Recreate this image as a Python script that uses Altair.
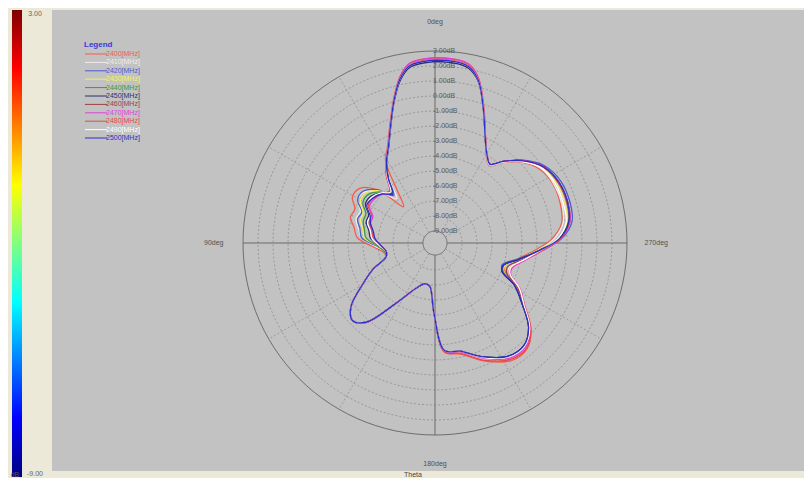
import altair as alt
import pandas as pd
import numpy as np

# ---------------- data ----------------
freqs = ["2400[MHz]", "2410[MHz]", "2420[MHz]", "2430[MHz]", "2440[MHz]", "2450[MHz]",
         "2460[MHz]", "2470[MHz]", "2480[MHz]", "2490[MHz]", "2500[MHz]"]
colors = ["#F25C4C", "#F4ECEC", "#4A5CD0", "#F2F060", "#3C9A3C", "#283070",
          "#9A4040", "#E040D8", "#E84848", "#FFFFFF", "#2E2EC8"]

# theta in degrees (0 at top, increasing counter-clockwise)
angles = [0, 8, 12, 16, 21, 26, 31, 36, 41, 47, 54, 61, 67, 73, 79, 86, 93, 100, 106, 113,
          120, 127, 133, 139, 147, 157, 166, 173, 179, 185, 193, 203, 213, 221, 228, 235,
          242, 247, 252, 259, 266, 272, 279, 287, 296, 305, 313, 320, 325, 330, 335, 340,
          345, 349, 353, 360]

g2400 = [2.55, 2.3, 1.5, 0.2, -1.4, -2.6, -3.4, -5.6, -6.6, -4.6, -3.6, -3.5, -4.0, -3.9, -4.3, -4.6, -5.6, -6.3, -6.4, -5.3,
         -4.2, -2.8, -2.25, -2.8, -5.0, -6.5, -7.0, -6.9, -5.2, -2.5, -2.2, -1.25, -0.45, -0.45, -1.2, -2.6, -3.7, -4.7, -4.9, -4.2,
         -3.1, -2.0, -1.25, -1.05, -1.0, -1.25, -1.9, -2.8, -3.5, -2.95, -1.85, -0.25, 1.5, 2.3, 2.5, 2.55]
g2410 = [2.45, 2.2, 1.45, 0.15, -1.45, -2.65, -3.45, -4.6, -5.9, -4.8, -4.0, -3.9, -4.4, -4.3, -4.6, -4.9, -5.8, -6.4, -6.4, -5.3,
         -4.2, -2.8, -2.25, -2.8, -5.0, -6.5, -7.0, -6.9, -5.2, -2.55, -2.3, -1.45, -0.7, -0.7, -1.3, -2.55, -3.5, -4.4, -4.6, -3.9,
         -2.9, -1.85, -1.15, -0.95, -0.95, -1.15, -1.85, -2.75, -3.45, -2.9, -1.85, -0.3, 1.45, 2.2, 2.4, 2.45]
g2420 = [2.4, 2.15, 1.4, 0.1, -1.5, -2.7, -3.5, -4.5, -5.6, -4.6, -3.9, -3.9, -4.5, -4.4, -4.7, -4.9, -5.9, -6.4, -6.4, -5.3,
         -4.2, -2.8, -2.25, -2.8, -5.0, -6.5, -7.0, -6.9, -5.2, -2.6, -2.4, -1.55, -0.8, -0.75, -1.4, -2.7, -3.8, -4.9, -5.1, -4.2,
         -2.7, -1.35, -0.55, -0.4, -0.45, -0.85, -1.7, -2.7, -3.4, -2.9, -1.9, -0.35, 1.4, 2.15, 2.35, 2.4]
g2430 = [2.4, 2.15, 1.4, 0.1, -1.5, -2.7, -3.5, -4.5, -5.5, -4.7, -4.1, -4.1, -4.6, -4.6, -4.9, -5.1, -6.0, -6.4, -6.4, -5.3,
         -4.2, -2.8, -2.25, -2.8, -5.0, -6.5, -7.0, -6.9, -5.2, -2.6, -2.35, -1.5, -0.75, -0.7, -1.35, -2.65, -3.7, -4.8, -4.9, -4.1,
         -2.9, -1.6, -0.9, -0.75, -0.75, -1.05, -1.8, -2.7, -3.4, -2.9, -1.9, -0.35, 1.4, 2.15, 2.35, 2.4]
g2440 = [2.4, 2.15, 1.4, 0.1, -1.5, -2.7, -3.5, -4.5, -5.5, -4.8, -4.3, -4.3, -4.8, -4.8, -5.0, -5.2, -6.0, -6.4, -6.4, -5.3,
         -4.2, -2.8, -2.25, -2.8, -5.0, -6.5, -7.0, -6.9, -5.2, -2.6, -2.4, -1.55, -0.8, -0.75, -1.4, -2.7, -3.8, -4.85, -5.0, -4.1,
         -2.85, -1.55, -0.8, -0.6, -0.65, -1.0, -1.8, -2.7, -3.4, -2.9, -1.9, -0.35, 1.4, 2.15, 2.35, 2.4]
g2450 = [2.3, 2.05, 1.3, 0.05, -1.55, -2.75, -3.55, -4.5, -5.4, -4.9, -4.5, -4.5, -5.0, -5.0, -5.3, -5.5, -6.1, -6.5, -6.4, -5.3,
         -4.2, -2.8, -2.25, -2.8, -5.0, -6.5, -7.0, -6.9, -5.2, -2.6, -2.4, -1.55, -0.8, -0.75, -1.4, -2.7, -3.8, -4.95, -5.0, -4.1,
         -2.8, -1.5, -0.75, -0.55, -0.6, -0.95, -1.75, -2.7, -3.4, -2.9, -1.9, -0.35, 1.35, 2.05, 2.25, 2.3]
g2460 = [2.4, 2.15, 1.4, 0.1, -1.5, -2.7, -3.5, -4.4, -5.3, -5.0, -4.6, -4.6, -5.1, -5.2, -5.4, -5.6, -6.1, -6.5, -6.4, -5.3,
         -4.2, -2.8, -2.25, -2.8, -5.0, -6.5, -7.0, -6.9, -5.2, -2.6, -2.4, -1.5, -0.75, -0.7, -1.35, -2.6, -3.6, -4.6, -4.7, -3.9,
         -2.7, -1.45, -0.7, -0.55, -0.6, -0.95, -1.75, -2.7, -3.4, -2.9, -1.9, -0.35, 1.4, 2.15, 2.35, 2.4]
g2470 = [2.55, 2.3, 1.5, 0.15, -1.45, -2.65, -3.45, -4.3, -5.2, -5.0, -4.8, -4.8, -5.3, -5.3, -5.5, -5.7, -6.2, -6.5, -6.4, -5.3,
         -4.2, -2.8, -2.25, -2.8, -5.0, -6.5, -7.0, -6.9, -5.2, -2.55, -2.35, -1.45, -0.65, -0.6, -1.25, -2.5, -3.4, -4.3, -4.4, -3.7,
         -2.6, -1.4, -0.7, -0.55, -0.6, -0.95, -1.75, -2.7, -3.4, -2.9, -1.85, -0.3, 1.5, 2.3, 2.5, 2.55]
g2480 = [2.45, 2.2, 1.45, 0.15, -1.45, -2.65, -3.45, -4.3, -5.2, -5.0, -4.7, -4.7, -5.2, -5.2, -5.5, -5.7, -6.2, -6.5, -6.4, -5.3,
         -4.2, -2.8, -2.25, -2.8, -5.0, -6.5, -7.0, -6.9, -5.2, -2.5, -2.25, -1.3, -0.55, -0.5, -1.2, -2.5, -3.5, -4.4, -4.5, -3.8,
         -2.65, -1.45, -0.75, -0.6, -0.65, -1.0, -1.8, -2.75, -3.45, -2.9, -1.85, -0.3, 1.45, 2.2, 2.4, 2.45]
g2490 = [2.4, 2.15, 1.4, 0.1, -1.5, -2.7, -3.5, -4.4, -5.3, -4.9, -4.6, -4.6, -5.1, -5.1, -5.4, -5.6, -6.1, -6.5, -6.4, -5.3,
         -4.2, -2.8, -2.25, -2.8, -5.0, -6.5, -7.0, -6.9, -5.2, -2.6, -2.4, -1.5, -0.75, -0.7, -1.3, -2.55, -3.45, -4.35, -4.5, -3.8,
         -2.75, -1.6, -0.95, -0.85, -0.85, -1.1, -1.85, -2.75, -3.45, -2.9, -1.9, -0.35, 1.4, 2.15, 2.35, 2.4]
g2500 = [2.4, 2.15, 1.4, 0.1, -1.5, -2.7, -3.5, -4.5, -5.5, -5.0, -4.7, -4.6, -5.1, -5.3, -5.6, -5.8, -6.2, -6.5, -6.4, -5.3,
         -4.2, -2.8, -2.25, -2.8, -5.0, -6.5, -7.0, -6.9, -5.2, -2.6, -2.4, -1.55, -0.8, -0.75, -1.4, -2.7, -3.8, -4.95, -5.0, -4.1,
         -2.8, -1.5, -0.77, -0.56, -0.6, -0.96, -1.77, -2.7, -3.4, -2.9, -1.9, -0.35, 1.4, 2.15, 2.35, 2.4]
series = [g2400, g2410, g2420, g2430, g2440, g2450, g2460, g2470, g2480, g2490, g2500]

ring_db = [-9, -8, -7, -6, -5, -4, -3, -2, -1, 0, 1, 2, 3]
solid_rings = [-9, 3]
spoke_angles = [30, 60, 120, 150, 210, 240, 300, 330]
axis_angles = [0, 90, 180, 270]
axis_labels = ["0deg", "90deg", "180deg", "270deg"]
cbar_labels = ["3.00", "-9.00"]

# ---------------- geometry ----------------
W, H = 796, 470
PX = 15.0          # pixels per dB
CX, CY = 427.0, 235.0
R0 = 9.8           # radius offset: -9 dB ring sits 12 px from the centre
xs = alt.Scale(domain=[-CX / PX, (W - CX) / PX], nice=False, zero=False)
ys = alt.Scale(domain=[-(H - CY) / PX, CY / PX], nice=False, zero=False)
X = lambda f: alt.X(f, type="quantitative", scale=xs, axis=None)
Y = lambda f: alt.Y(f, type="quantitative", scale=ys, axis=None)


def pol(r, a):
    t = np.deg2rad(a)
    return -r * np.sin(t), r * np.cos(t)


rows = []
for name, vals in zip(freqs, series):
    for j, (a, v) in enumerate(zip(angles, vals)):
        x, y = pol(v + R0, a)
        rows.append({"freq": name, "j": j, "x": x, "y": y})
curves = pd.DataFrame(rows)

ring_rows = []
for d in ring_db:
    for k, a in enumerate(range(0, 361, 3)):
        x, y = pol(d + R0, a)
        ring_rows.append({"ring": d, "k": k, "x": x, "y": y,
                          "solid": d in solid_rings})
rings = pd.DataFrame(ring_rows)

spk = []
for a in spoke_angles:
    x1, y1 = pol(-9 + R0, a)
    x2, y2 = pol(3 + R0, a)
    spk.append({"x": x1, "y": y1, "x2": x2, "y2": y2})
spokes = pd.DataFrame(spk)
ax = []
for a in axis_angles:
    x1, y1 = pol(-9 + R0, a)
    x2, y2 = pol(3 + R0, a)
    ax.append({"x": x1, "y": y1, "x2": x2, "y2": y2})
axes_df = pd.DataFrame(ax)

rlab = pd.DataFrame({"y": [d + R0 for d in ring_db],
                     "x": [0.0] * len(ring_db),
                     "t": [f"{d:.2f}dB" for d in ring_db]})
alab_rows = []
for a, t in zip(axis_angles, axis_labels):
    x, y = pol(14.75, a)
    alab_rows.append({"x": x, "y": y, "t": t})
alab = pd.DataFrame(alab_rows)

one = pd.DataFrame({"k": [0]})
FONT = "Liberation Sans"

bg = alt.Chart(one).mark_rect(color="#C2C2C2").encode(
    x=alt.value(44), x2=alt.value(W), y=alt.value(2), y2=alt.value(H))
cbar = alt.Chart(one).mark_rect(
    fill=alt.Gradient(gradient="linear", x1=0, x2=0, y1=0, y2=1, stops=[
        alt.GradientStop(offset=0.0, color="#7F0000"),
        alt.GradientStop(offset=0.125, color="#FF0000"),
        alt.GradientStop(offset=0.375, color="#FFFF00"),
        alt.GradientStop(offset=0.5, color="#80FF80"),
        alt.GradientStop(offset=0.625, color="#00FFFF"),
        alt.GradientStop(offset=0.875, color="#0000FF"),
        alt.GradientStop(offset=1.0, color="#00007F")])
).encode(x=alt.value(4), x2=alt.value(14), y=alt.value(2), y2=alt.value(469))
cbar_txt = alt.Chart(pd.DataFrame({"t": cbar_labels, "i": [0, 1]})).mark_text(
    font=FONT, fontSize=7, color="#666666", align="center", baseline="middle"
).encode(x=alt.value(27), y=alt.Y("i:Q", scale=alt.Scale(domain=[0, 1], range=[6, 466]), axis=None),
         text="t:N")
misc_txt = alt.Chart(pd.DataFrame({"t": ["dB"]})).mark_text(
    font=FONT, fontSize=7, color="#555555", align="center", baseline="bottom"
).encode(x=alt.value(7), y=alt.value(470), text="t:N")
theta_bg = alt.Chart(one).mark_rect(color="#ECE9D8").encode(
    x=alt.value(44), x2=alt.value(W), y=alt.value(H - 7), y2=alt.value(H))
theta_txt = alt.Chart(pd.DataFrame({"t": ["Theta"]})).mark_text(
    font=FONT, fontSize=7, color="#444444", align="center", baseline="bottom"
).encode(x=alt.value(405), y=alt.value(470), text="t:N")

ring_solid = alt.Chart(rings[rings.solid]).mark_line(color="#6E6E6E", strokeWidth=1).encode(
    x=X("x"), y=Y("y"), detail="ring:N", order="k:Q")
ring_dot = alt.Chart(rings[~rings.solid]).mark_line(color="#8E8E8E", strokeWidth=0.8,
                                                    strokeDash=[2, 2]).encode(
    x=X("x"), y=Y("y"), detail="ring:N", order="k:Q")
spoke_l = alt.Chart(spokes).mark_rule(color="#929292", strokeWidth=0.8, strokeDash=[2, 2]).encode(
    x=X("x"), y=Y("y"), x2="x2", y2="y2")
axis_l = alt.Chart(axes_df).mark_rule(color="#6A6A6A", strokeWidth=1).encode(
    x=X("x"), y=Y("y"), x2="x2", y2="y2")
rlab_t = alt.Chart(rlab).mark_text(font=FONT, fontSize=7, color="#5A5A5A", align="left",
                                   baseline="middle", dx=-2).encode(x=X("x"), y=Y("y"), text="t:N")
alab_t = alt.Chart(alab).mark_text(font=FONT, fontSize=7, color="#505050", align="center",
                                   baseline="middle").encode(x=X("x"), y=Y("y"), text="t:N")

lines = alt.Chart(curves).mark_line(strokeWidth=1.3, interpolate="catmull-rom").encode(
    x=X("x"), y=Y("y"),
    color=alt.Color("freq:N", scale=alt.Scale(domain=freqs, range=colors), legend=None),
    detail="freq:N", order="j:Q")

leg_df = pd.DataFrame({"freq": freqs, "i": list(range(len(freqs)))})
ly = alt.Y("i:Q", scale=alt.Scale(domain=[0, len(freqs) - 1], range=[46, 130]), axis=None)
leg_rule = alt.Chart(leg_df).mark_rule(strokeWidth=1).encode(
    x=alt.value(77), x2=alt.value(99), y=ly,
    color=alt.Color("freq:N", scale=alt.Scale(domain=freqs, range=colors), legend=None))
leg_text = alt.Chart(leg_df).mark_text(font=FONT, fontSize=7, align="left", baseline="middle").encode(
    x=alt.value(98), y=ly, text="freq:N",
    color=alt.Color("freq:N", scale=alt.Scale(domain=freqs, range=colors), legend=None))
leg_title = alt.Chart(pd.DataFrame({"t": ["Legend"]})).mark_text(
    font=FONT, fontSize=8, fontWeight="bold", color="#3A3AD0", align="left", baseline="middle"
).encode(x=alt.value(76), y=alt.value(37), text="t:N")

chart = alt.layer(
    bg, cbar, cbar_txt, misc_txt, theta_bg, theta_txt,
    ring_dot, ring_solid, spoke_l, axis_l, rlab_t, alab_t, lines,
    leg_rule, leg_text, leg_title
).resolve_scale(y="independent", color="independent").properties(
    width=W, height=H, background="#ECE9D8", padding=0,
    autosize=alt.AutoSizeParams(type="none")
).configure_view(stroke=None)

chart.save("out.html", embed_options={"renderer": "svg", "actions": False})
